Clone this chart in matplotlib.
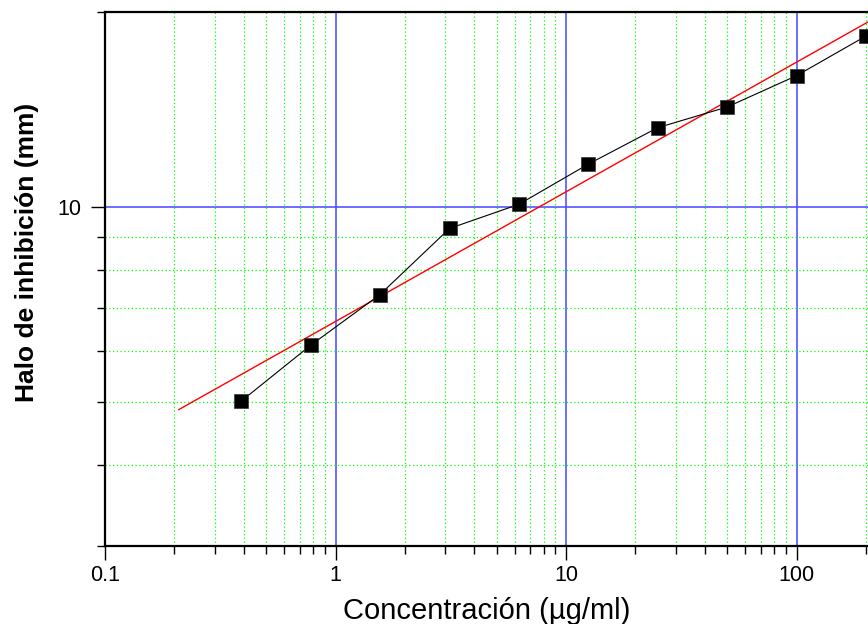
import matplotlib
matplotlib.use("Agg")
import matplotlib.pyplot as plt
from matplotlib.ticker import LogLocator, FixedLocator, FixedFormatter, NullFormatter

plt.rcParams['font.family'] = ['Liberation Sans', 'DejaVu Sans']

# concentration (ug/ml) and inhibition halo (mm)
conc = [0.39, 0.78, 1.56, 3.125, 6.25, 12.5, 25, 50, 100, 200]
halo = [5.02, 6.12, 7.33, 9.27, 10.1, 11.65, 13.26, 14.27, 15.95, 18.36]

# power-law fit line, end points
fit_x = [0.209, 250]
fit_y = [4.87, 20.1]

x_ticks = [0.1, 1, 10, 100]
x_tick_labels = ["0.1", "1", "10", "100"]
y_ticks = [10]
y_tick_labels = ["10"]

fig = plt.figure(figsize=(8.68, 6.24), dpi=100)
# axes run past the right edge of the figure, as in the original
ax = fig.add_axes([105 / 868, 78 / 624, 922 / 868, 534 / 624])

ax.set_xscale("log")
ax.set_yscale("log")
ax.set_xlim(0.1, 1000)
ax.set_ylim(3, 20)

# ticks
ax.xaxis.set_major_locator(FixedLocator(x_ticks))
ax.xaxis.set_major_formatter(FixedFormatter(x_tick_labels))
ax.xaxis.set_minor_locator(LogLocator(base=10, subs=range(2, 10)))
ax.xaxis.set_minor_formatter(NullFormatter())
ax.yaxis.set_major_locator(FixedLocator(y_ticks))
ax.yaxis.set_major_formatter(FixedFormatter(y_tick_labels))
ax.yaxis.set_minor_locator(LogLocator(base=10, subs=range(2, 10)))
ax.yaxis.set_minor_formatter(NullFormatter())

# grid
ax.grid(which="major", color="#4646ff", linestyle="-", linewidth=1.1, zorder=1)
ax.grid(which="minor", color="#00ff00", linestyle=(0, (1, 2)), linewidth=0.9, zorder=1)
ax.set_axisbelow(True)

ax.plot(fit_x, fit_y, color="red", linewidth=1.0, zorder=3)
ax.plot(conc, halo, color="black", linewidth=0.8, marker="s", markersize=9.6,
        markerfacecolor="black", markeredgecolor="#333333", markeredgewidth=0.5,
        zorder=4, clip_on=False)

for side in ["left", "bottom", "top"]:
    ax.spines[side].set_linewidth(1.6)
ax.spines["right"].set_visible(False)

ax.tick_params(which="major", direction="out", length=10, width=1.0, labelsize=15.5)
ax.tick_params(axis="x", which="major", pad=4)
ax.tick_params(axis="y", which="major", pad=7)
ax.tick_params(which="minor", direction="out", length=6, width=1.0)

fig.text(27 / 868, 1 - 252 / 624, "Halo de inhibición (mm)", rotation=90,
         ha="center", va="center", fontsize=19, fontweight="bold")
fig.text(487 / 868, 5 / 624, "Concentración (µg/ml)",
         ha="center", va="baseline", fontsize=21)

fig.savefig("out.png", dpi=100)
